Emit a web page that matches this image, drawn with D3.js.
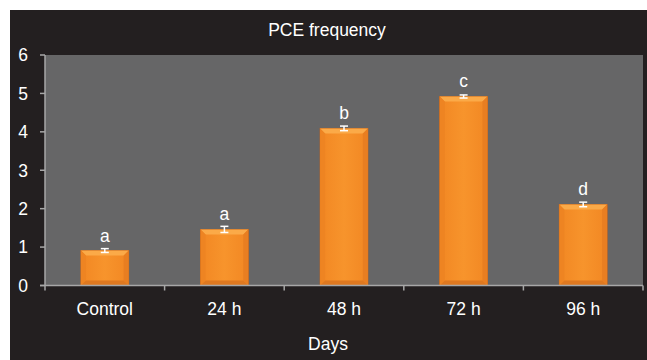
<!DOCTYPE html>
<html><head><meta charset="utf-8">
<script src="https://cdn.jsdelivr.net/npm/d3@7"></script>
<style>html,body{margin:0;padding:0;background:#fff;}svg{display:block;}</style>
</head><body>
<svg id="c" width="647" height="360"></svg>
<script>
const categories = ["Control", "24 h", "48 h", "72 h", "96 h"];
const values = [0.91, 1.46, 4.09, 4.92, 2.11];
const errors = [0.05, 0.08, 0.06, 0.04, 0.06];
const letters = ["a", "a", "b", "c", "d"];
const yTicks = [0, 1, 2, 3, 4, 5, 6];
const title = "PCE frequency";
const xTitle = "Days";

const svg = d3.select("#c");
const font = "'Liberation Sans', Arial, sans-serif";
const fs = 17.5;
const L = 45, R = 643, T = 55, B = 285.5;

svg.append("rect").attr("x", 10).attr("y", 10).attr("width", 637).attr("height", 350).attr("fill", "#231f20");
svg.append("rect").attr("x", L).attr("y", T).attr("width", R - L).attr("height", B - T).attr("fill", "#666667");

const x = d3.scaleBand().domain(categories).range([L, R]).paddingInner(0).paddingOuter(0);
const y = d3.scaleLinear().domain([0, 6]).range([B, T]);

const defs = svg.append("defs");
const gH = defs.append("linearGradient").attr("id", "gh").attr("x1", 0).attr("x2", 1).attr("y1", 0).attr("y2", 0);
gH.append("stop").attr("offset", 0).attr("stop-color", "#e27a20");
gH.append("stop").attr("offset", 0.12).attr("stop-color", "#f38a25");
gH.append("stop").attr("offset", 0.5).attr("stop-color", "#f7942c");
gH.append("stop").attr("offset", 0.88).attr("stop-color", "#f38a25");
gH.append("stop").attr("offset", 1).attr("stop-color", "#e27a20");

const bw = x.bandwidth() * 0.4;
const bev = 5;
const g = svg.append("g");
categories.forEach((c, i) => {
  const cx = x(c) + x.bandwidth() / 2;
  const x0 = cx - bw / 2, x1 = cx + bw / 2;
  const yt = y(values[i]), yb = y(0);
  g.append("rect").attr("x", x0).attr("y", yt).attr("width", bw).attr("height", yb - yt).attr("fill", "url(#gh)")
    .attr("stroke", "#c9651a").attr("stroke-width", 0.8);
  g.append("path").attr("d", `M${x0},${yt} L${x1},${yt} L${x1 - bev},${yt + bev} L${x0 + bev},${yt + bev} Z`).attr("fill", "#fbaa48");
  g.append("path").attr("d", `M${x0},${yb} L${x1},${yb} L${x1 - bev},${yb - bev} L${x0 + bev},${yb - bev} Z`).attr("fill", "#de7820");
  g.append("path").attr("d", `M${x0},${yt} L${x0 + bev},${yt + bev} L${x0 + bev},${yb - bev} L${x0},${yb} Z`).attr("fill", "#ee8422");
  g.append("path").attr("d", `M${x1},${yt} L${x1 - bev},${yt + bev} L${x1 - bev},${yb - bev} L${x1},${yb} Z`).attr("fill", "#e87e21");
  const e1 = y(values[i] + errors[i]), e0 = y(values[i] - errors[i]);
  g.append("line").attr("x1", cx).attr("x2", cx).attr("y1", e1).attr("y2", e0).attr("stroke", "#fff").attr("stroke-width", 1.5);
  [e1, e0].forEach(v => g.append("line").attr("x1", cx - 4).attr("x2", cx + 4).attr("y1", v).attr("y2", v).attr("stroke", "#fff").attr("stroke-width", 1.5));
  g.append("text").attr("x", cx).attr("y", yt - 9).attr("text-anchor", "middle").attr("fill", "#fff")
    .attr("font-family", font).attr("font-size", fs).text(letters[i]);
});

const ax = "#a7a7a7";
svg.append("line").attr("x1", L).attr("x2", L).attr("y1", T).attr("y2", B + 0.5).attr("stroke", ax).attr("stroke-width", 1.5);
yTicks.forEach(t => {
  svg.append("line").attr("x1", L - 5).attr("x2", L).attr("y1", y(t)).attr("y2", y(t)).attr("stroke", ax).attr("stroke-width", 1.5);
  svg.append("text").attr("x", 28).attr("y", y(t)).attr("dy", "0.36em").attr("text-anchor", "end").attr("fill", "#fff")
    .attr("font-family", font).attr("font-size", fs).text(t);
});
svg.append("line").attr("x1", L - 5).attr("x2", R).attr("y1", B).attr("y2", B).attr("stroke", ax).attr("stroke-width", 1.5);
const bounds = categories.map(c => x(c)).concat([R]);
bounds.forEach(b => svg.append("line").attr("x1", b).attr("x2", b).attr("y1", B).attr("y2", B + 5).attr("stroke", ax).attr("stroke-width", 1.5));
categories.forEach(c => svg.append("text").attr("x", x(c) + x.bandwidth() / 2).attr("y", 315).attr("text-anchor", "middle")
  .attr("fill", "#fff").attr("font-family", font).attr("font-size", fs).text(c));

svg.append("text").attr("x", 327).attr("y", 36).attr("text-anchor", "middle").attr("fill", "#fff").attr("font-family", font).attr("font-size", fs).text(title);
svg.append("text").attr("x", 328).attr("y", 350).attr("text-anchor", "middle").attr("fill", "#fff").attr("font-family", font).attr("font-size", fs).text(xTitle);
</script>
</body></html>
